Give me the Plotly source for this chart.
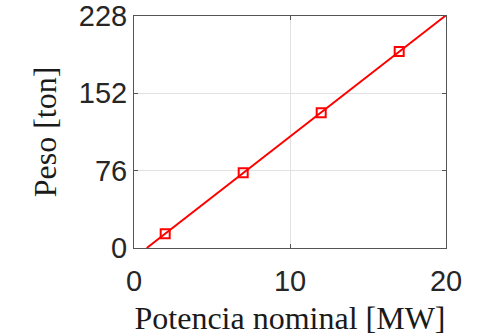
import numpy as np
import plotly.graph_objects as go

# Data
potencia_mw = [2, 7, 12, 17]
peso_ton = [14, 74, 133, 193]
x_ticks = [0, 10, 20]
y_ticks = [0, 76, 152, 228]
x_range = [0, 20]
y_range = [0, 228]

# linear fit through the points, drawn from y=0 up to the right edge
slope, intercept = np.polyfit(potencia_mw, peso_ton, 1)
x0 = -intercept / slope
fit_x = [x0, x_range[1]]
fit_y = [slope * x + intercept for x in fit_x]

RED = "#ff0000"
fig = go.Figure()
fig.add_trace(go.Scatter(x=fit_x, y=fit_y, mode="lines",
                         line=dict(color=RED, width=2), showlegend=False,
                         cliponaxis=True))
fig.add_trace(go.Scatter(x=potencia_mw, y=peso_ton, mode="markers",
                         marker=dict(symbol="square-open", size=9, color=RED,
                                     line=dict(width=2, color=RED)),
                         showlegend=False, cliponaxis=False))

tickfont = dict(family="Liberation Sans, Arial, sans-serif", size=29, color="#262626")
titlefont = dict(family="Liberation Serif, Times New Roman, serif", size=32, color="#1a1a1a")

fig.update_layout(
    width=488, height=336,
    margin=dict(l=134, r=42, t=16, b=88),
    plot_bgcolor="white", paper_bgcolor="white",
)
fig.update_xaxes(range=x_range, tickvals=x_ticks, ticktext=[str(v) for v in x_ticks],
                 showgrid=True, gridcolor="#e1e1e1", gridwidth=1,
                 showline=True, linecolor="#555555", linewidth=1, mirror="allticks",
                 ticks="inside", ticklen=4, tickcolor="#555555",
                 tickfont=tickfont, zeroline=False, automargin=False,
                 ticklabelstandoff=7,
                 title=dict(text="Potencia nominal [MW]", font=titlefont, standoff=10))
fig.update_yaxes(range=y_range, tickvals=y_ticks, ticktext=[str(v) for v in y_ticks],
                 showgrid=True, gridcolor="#e1e1e1", gridwidth=1,
                 showline=True, linecolor="#555555", linewidth=1, mirror="allticks",
                 ticks="inside", ticklen=4, tickcolor="#555555",
                 tickfont=tickfont, zeroline=False, automargin=False,
                 title=dict(text="Peso [ton]", font=titlefont, standoff=12))

fig.write_html("out.html")
